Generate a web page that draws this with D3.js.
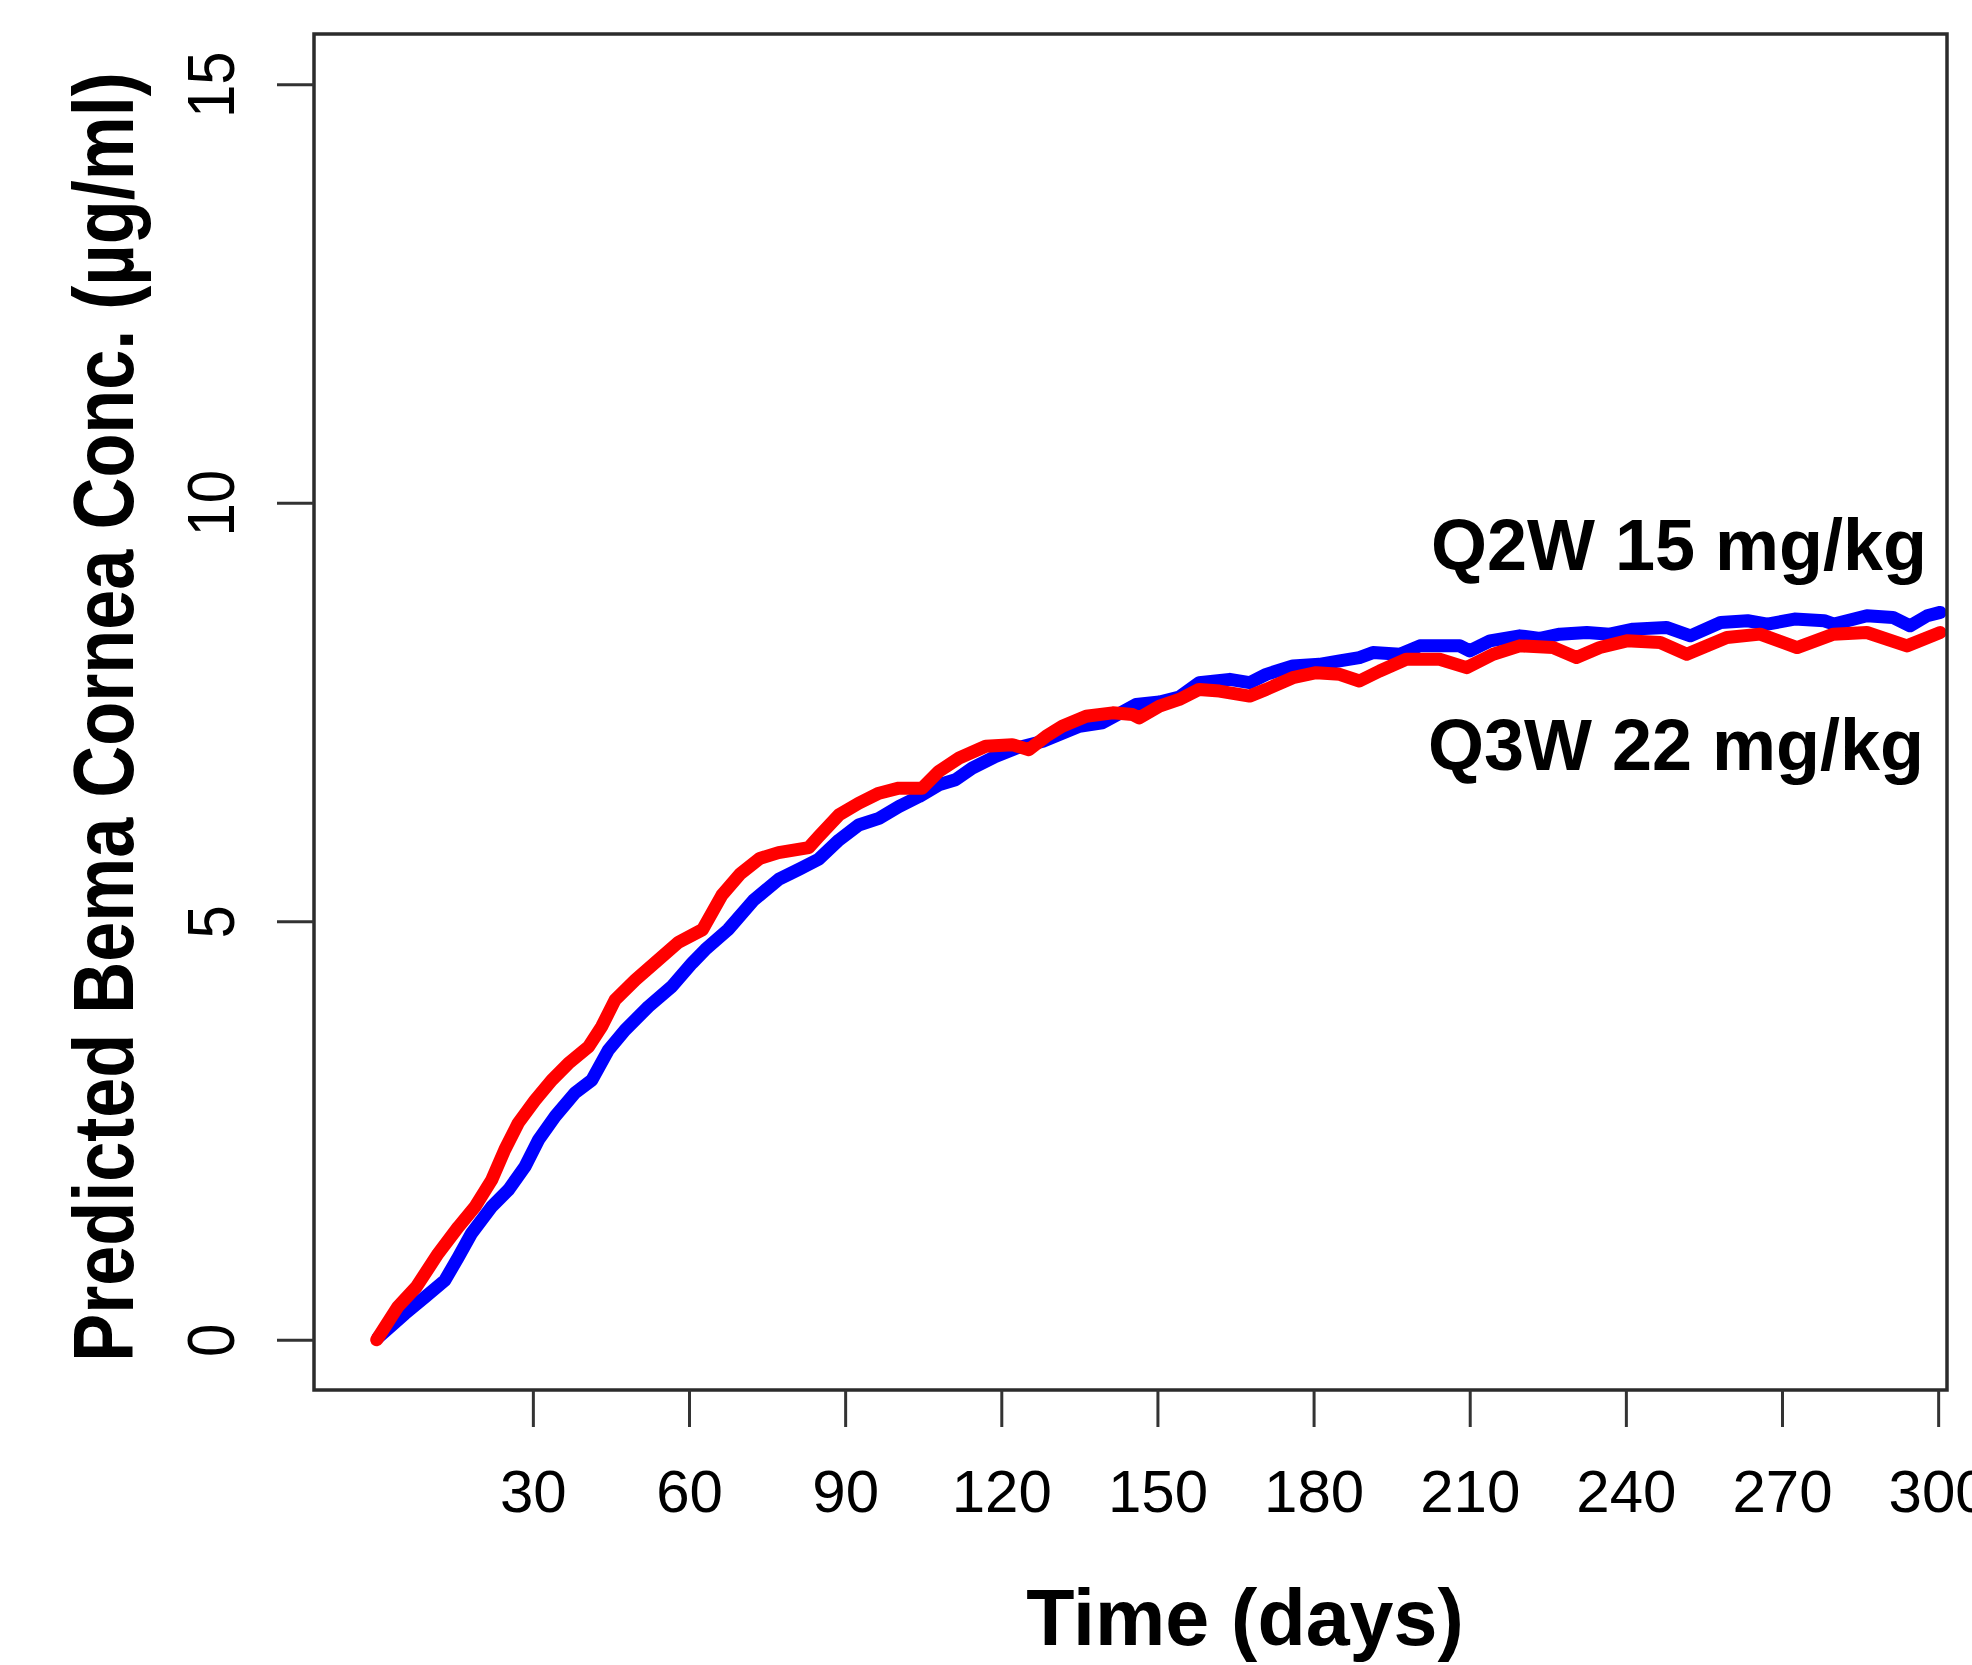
<!DOCTYPE html>
<html>
<head>
<meta charset="utf-8">
<script src="https://cdn.jsdelivr.net/npm/d3@7"></script>
<style>
  html, body { margin: 0; padding: 0; background: #fff; }
  svg { display: block; }
  text { font-family: "Liberation Sans", Arial, sans-serif; fill: #000; }
</style>
</head>
<body>
<svg id="chart" width="1972" height="1665"></svg>
<script>
// ---- data ----
const xTicks = [30, 60, 90, 120, 150, 180, 210, 240, 270, 300];
const yTicks = [0, 5, 10, 15];

const q2wDays = [0.3, 5.4, 9.3, 13.1, 15.7, 18.2, 22.1, 25.3, 28.5, 31.1, 34.3, 38.1, 41.3, 44.5, 47.7,
  52.2, 56.7, 60.6, 63.1, 67.5, 72.4, 77.2, 81.1, 84.9, 88.8, 92.6, 96.5, 100.3, 104.2, 108, 111.2,
  114.4, 118.9, 123, 128, 135, 139.4, 145.9, 150.4, 154.2, 158, 163.9, 167.7, 170.9, 176, 181.1,
  185, 188.8, 191.4, 196.6, 200.4, 208.1, 210, 213.9, 219.6, 223.5, 227.3, 232.5, 236.9, 241.4,
  247.8, 252.4, 258.2, 263.4, 267.2, 272.4, 278.1, 280, 286.3, 291.3, 294.6, 297.9, 300.4];
const q2wValues = [0.03, 0.31, 0.51, 0.71, 0.99, 1.27, 1.59, 1.79, 2.07, 2.39, 2.67, 2.95, 3.10, 3.46, 3.70,
  3.98, 4.22, 4.50, 4.66, 4.90, 5.25, 5.50, 5.62, 5.74, 5.97, 6.15, 6.23, 6.37, 6.49, 6.63, 6.69,
  6.83, 6.97, 7.07, 7.15, 7.33, 7.37, 7.59, 7.62, 7.68, 7.85, 7.89, 7.85, 7.95, 8.05, 8.07,
  8.11, 8.15, 8.21, 8.19, 8.29, 8.29, 8.23, 8.35, 8.41, 8.38, 8.43, 8.45, 8.43, 8.49,
  8.51, 8.41, 8.57, 8.59, 8.55, 8.61, 8.59, 8.55, 8.65, 8.63, 8.53, 8.65, 8.69];

const q3wDays = [0, 4, 7.6, 11.8, 15.7, 18.9, 22.1, 24.6, 27.2, 30.4, 33.6, 36.8, 40.7, 43.2, 45.8,
  49.7, 54.1, 58, 62.6, 66.3, 69.9, 73.6, 77.2, 83, 84.9, 88.8, 92.6, 96.5, 100.3, 104.8, 108,
  111.9, 117, 122.1, 125.3, 128.6, 131.7, 136.3, 141.4, 145.2, 146.5, 150.4, 154.2, 158, 161.9,
  167.7, 170.9, 176, 180.5, 185, 188.8, 192.7, 197.8, 204.2, 209.4, 214.5, 219.6, 226, 230.5,
  235, 240.2, 246.6, 251.7, 259.4, 265.8, 272.9, 279.9, 286.3, 294, 300.4];
const q3wValues = [0.0, 0.39, 0.63, 1.03, 1.35, 1.59, 1.91, 2.27, 2.59, 2.86, 3.10, 3.30, 3.50, 3.74, 4.06,
  4.30, 4.54, 4.75, 4.90, 5.31, 5.57, 5.75, 5.82, 5.88, 6.01, 6.27, 6.41, 6.53, 6.59, 6.59, 6.79,
  6.95, 7.09, 7.11, 7.05, 7.21, 7.33, 7.45, 7.49, 7.47, 7.43, 7.57, 7.65, 7.77, 7.75,
  7.69, 7.77, 7.91, 7.97, 7.95, 7.87, 7.99, 8.13, 8.13, 8.03, 8.19, 8.29, 8.27, 8.15,
  8.27, 8.35, 8.33, 8.19, 8.39, 8.43, 8.27, 8.43, 8.45, 8.29, 8.45];

const seriesNames = ["Q2W 15 mg/kg", "Q3W 22 mg/kg"];
const xLabel = "Time (days)";
const yLabel = "Predicted Bema Cornea Conc. (\u00b5g/ml)";

// ---- layout ----
const svg = d3.select("#chart");
const plotLeft = 314, plotRight = 1947, plotTop = 34, plotBottom = 1390;

const x = d3.scaleLinear().domain([-12.05, 301.7]).range([plotLeft, plotRight]);
const y = d3.scaleLinear().domain([-0.6, 15.6]).range([plotBottom, plotTop]);

// lines
const line = d3.line().x(d => x(d[0])).y(d => y(d[1]));
const q2w = q2wDays.map((d, i) => [d, q2wValues[i]]);
const q3w = q3wDays.map((d, i) => [d, q3wValues[i]]);

svg.append("path").datum(q2w).attr("d", line)
  .attr("fill", "none").attr("stroke", "#0000ff").attr("stroke-width", 13)
  .attr("stroke-linejoin", "round").attr("stroke-linecap", "round");
svg.append("path").datum(q3w).attr("d", line)
  .attr("fill", "none").attr("stroke", "#ff0000").attr("stroke-width", 13)
  .attr("stroke-linejoin", "round").attr("stroke-linecap", "round");

// box
svg.append("rect")
  .attr("x", plotLeft).attr("y", plotTop)
  .attr("width", plotRight - plotLeft).attr("height", plotBottom - plotTop)
  .attr("fill", "none").attr("stroke", "#2b2b2b").attr("stroke-width", 3.5);

// x axis
const xAxis = svg.append("g").attr("transform", `translate(0,${plotBottom})`)
  .call(d3.axisBottom(x).tickValues(xTicks).tickSize(37).tickPadding(42).tickFormat(d3.format("d")));
xAxis.select(".domain").remove();
xAxis.selectAll(".tick line").attr("stroke", "#333").attr("stroke-width", 3);
xAxis.selectAll(".tick text").attr("font-size", 60).attr("fill", "#000")
  .style("font-family", "'Liberation Sans', Arial, sans-serif");

// y axis
const yAxis = svg.append("g").attr("transform", `translate(${plotLeft},0)`)
  .call(d3.axisLeft(y).tickValues(yTicks).tickSize(37).tickFormat(d3.format("d")));
yAxis.select(".domain").remove();
yAxis.selectAll(".tick line").attr("stroke", "#333").attr("stroke-width", 3);
yAxis.selectAll(".tick text")
  .attr("x", null).attr("dy", null)
  .attr("text-anchor", "middle")
  .attr("font-size", 60)
  .style("font-family", "'Liberation Sans', Arial, sans-serif")
  .attr("transform", `translate(${234 - plotLeft},0) rotate(-90) scale(1,1.12)`);

// axis titles
svg.append("text")
  .attr("x", 1245).attr("y", 1645)
  .attr("text-anchor", "middle")
  .attr("font-size", 79).attr("font-weight", "bold")
  .text(xLabel);

svg.append("text")
  .attr("transform", "translate(133,717) rotate(-90) scale(1,1.18)")
  .attr("text-anchor", "middle")
  .attr("font-size", 72).attr("font-weight", "bold")
  .text(yLabel);

// series labels
svg.append("text").attr("x", 1927).attr("y", 570)
  .attr("text-anchor", "end").attr("font-size", 72).attr("font-weight", "bold")
  .text(seriesNames[0]);
svg.append("text").attr("x", 1924).attr("y", 770)
  .attr("text-anchor", "end").attr("font-size", 72).attr("font-weight", "bold")
  .text(seriesNames[1]);
</script>
</body>
</html>
